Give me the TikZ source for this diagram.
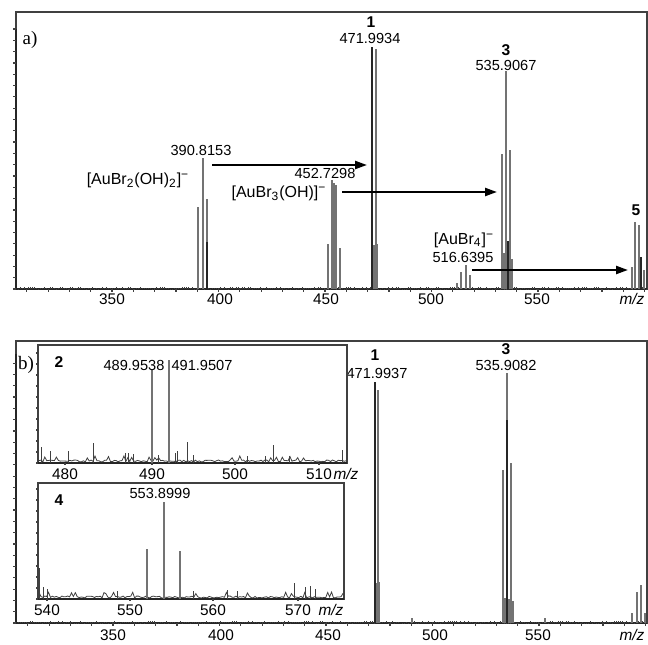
\documentclass[tikz,border=0pt]{standalone}
\usepackage{fontspec}
\setmainfont{Liberation Sans}
\newfontfamily\panelfont{Liberation Serif}
\usetikzlibrary{arrows.meta}
\tikzset{
  peak/.style={draw=black!55, line width=0.55pt},
  darkpeak/.style={draw=black!85, line width=0.55pt},
  noise/.style={draw=black!75, line width=0.4pt},
  frame/.style={draw=black!75, line width=0.6pt},
  axisline/.style={draw=black!85, line width=1pt},
  lbl/.style={inner sep=0.5pt, font=\fontsize{7.3}{8}\selectfont},
  tick/.style={inner sep=0.5pt, font=\fontsize{7.7}{8}\selectfont},
  ion/.style={inner sep=0.5pt, font=\fontsize{8}{9}\selectfont},
  cpd/.style={inner sep=0.5pt, font=\fontsize{7.8}{9}\selectfont\bfseries},
  panel/.style={inner sep=0.5pt, font=\fontsize{9.5}{10}\selectfont\panelfont},
  tran/.style={line width=1.1pt, -{Triangle[length=6pt,width=4pt]}},
}
\begin{document}
\begin{tikzpicture}[x=0.5pt,y=0.5pt]
  \useasboundingbox (0,0) rectangle (648,644);
  \pgfmathsetseed{21}
  %% ---------- panel a ----------
  \def\ba{355}
  \draw[frame] (16,\ba) rectangle (647,632);
  \draw[axisline] (16,\ba) -- (647,\ba);
  \draw[axisline] (16,\ba) -- (16,615);
  \foreach \i in {0,...,23}
    \draw[frame] (16,{\ba+\i*11.3}) -- ++(-3,0);
  \foreach \i in {0,...,29}
    \draw[frame] ({26.8+\i*21.3},\ba) -- ++(0,-3);
  \foreach \x/\t in {112/350,220/400,326/450,431/500,537/550}
    \node[tick] (ta\t) at (\x,345) {\t};
  \node[tick] (mza) at (632,345) {\itshape m/z};
  \node[panel] (pa) at (30,604) {a)};
  %% baseline noise
  \draw[noise] \foreach \x in {18,20,...,646} {(\x,\ba) -- ++(0,{2.5*rnd})};
  %% peaks
  \foreach \x/\h in {198/82,203/131,207/90,
                     328/45,332/109,334/106,336/104,340/41,
                     374/44,377/45,
                     457/6,461/17,466/24,470/14,
                     504/36,506/30,508/38,510/34,512/30,
                     502/135,506/218,510/139,
                     632/22,635/67,639/64,644/19}
    \draw[peak] (\x,\ba) -- ++(0,\h);
  \draw[darkpeak] (372,\ba) -- ++(0,242);
  \draw[peak] (376,\ba) -- ++(0,240);
  \draw[darkpeak] (372,\ba) -- ++(0,171);
  \draw[darkpeak] (207,\ba) -- ++(0,47);
  \draw[darkpeak] (641,\ba) -- ++(0,32);
  \draw[darkpeak] (508,\ba) -- ++(0,48);
  %% labels
  \node[cpd] (c1a) at (371,622) {1};
  \node[lbl] (m1a) at (370,606) {471.9934};
  \node[cpd] (c3a) at (506,594) {3};
  \node[lbl] (m3a) at (506,579) {535.9067};
  \node[cpd] (c5a) at (636,434) {5};
  \node[lbl] (m390) at (201,494) {390.8153};
  \node[ion] (i390) at (138,464) {[AuBr\textsubscript{2}(OH)\textsubscript{2}]\textsuperscript{−}};
  \node[lbl] (m452) at (325,471) {452.7298};
  \node[ion] (i452) at (279,451) {[AuBr\textsubscript{3}(OH)]\textsuperscript{−}};
  \node[ion] (i516) at (464,404) {[AuBr\textsubscript{4}]\textsuperscript{−}};
  \node[lbl] (m516) at (463,387) {516.6395};
  %% transitions
  \coordinate (t1s) at (212,479);
  \coordinate (t1e) at (367,479);
  \coordinate (t2s) at (342,452);
  \coordinate (t2e) at (497,452);
  \coordinate (t3s) at (472,374);
  \coordinate (t3e) at (628,374);
  \draw[tran] (t1s) -- (t1e);
  \draw[tran] (t2s) -- (t2e);
  \draw[tran] (t3s) -- (t3e);
  %% ---------- panel b ----------
  \def\bb{21}
  \draw[frame] (16,\bb) rectangle (647,303);
  \draw[axisline] (16,\bb) -- (647,\bb);
  \draw[axisline] (16,\bb) -- (16,290);
  \foreach \i in {0,...,23}
    \draw[frame] (16,{\bb+\i*11.3}) -- ++(-3,0);
  \foreach \i in {0,...,29}
    \draw[frame] ({27.8+\i*21.3},\bb) -- ++(0,-3);
  \foreach \x/\t in {113/350,221/400,328/450,435/500,538/550}
    \node[tick] (tb\t) at (\x,9) {\t};
  \node[tick] (mzb) at (632,9) {\itshape m/z};
  \node[panel] (pb) at (26,279) {b)};
  \draw[noise] \foreach \x in {18,20,...,646} {(\x,\bb) -- ++(0,{2*rnd})};
  \foreach \x/\h in {376/40,379/41,412/5,505/25,509/24,513/22,545/5,
                     378/233,503/153,511/160,
                     632/10,637/31,641/38,645/10}
    \draw[peak] (\x,\bb) -- ++(0,\h);
  \draw[darkpeak] (375,\bb) -- ++(0,241);
  \draw[darkpeak] (375,\bb) -- ++(0,148);
  \draw[peak] (507,\bb) -- ++(0,250);
  \draw[darkpeak] (507,\bb) -- ++(0,203);
  \node[cpd] (c1b) at (375,289) {1};
  \node[lbl] (m1b) at (377,271) {471.9937};
  \node[cpd] (c3b) at (506,295) {3};
  \node[lbl] (m3b) at (506,279) {535.9082};
  %% inset: compound 2
  \def\bi{181}
  \fill[white] (38,\bi) rectangle (347,299);
  \draw[frame] (38,\bi) rectangle (347,299);
  \draw[axisline] (38,\bi) -- (347,\bi);
  \foreach \i in {0,...,10}
    \draw[frame] (38,{\bi+\i*11}) -- ++(-2,0);
  \foreach \x/\t in {65/480,152/490,235/500,319/510}
    {\draw[frame] (\x,\bi) -- ++(0,-2);
     \node[tick] (tc\t) at (\x,170) {\t};}
  \node[tick] (mzc) at (346,170) {\itshape m/z};
  \draw[noise] plot[domain=39:346,samples=160] (\x,{\bi+1+2*rnd+4*(rnd>0.9)});
  \foreach \x/\h in {41/16,50/12,68/12,93/20,125/10,128/10,133/9,158/8,
                     175/10,177/12,187/21,193/8,247/7,265/7,273/18,289/7,342/13}
    \draw[noise] (\x,\bi) -- ++(0,\h);
  \draw[peak] (152,\bi) -- ++(0,93);
  \draw[peak] (169,\bi) -- ++(0,103);
  \node[cpd] (c2) at (59,282) {2};
  \node[lbl] (m490) at (134,279) {489.9538};
  \node[lbl] (m492) at (202,279) {491.9507};
  %% inset: compound 4
  \def\bj{45}
  \fill[white] (38,\bj) rectangle (344,161);
  \draw[frame] (38,\bj) rectangle (344,161);
  \draw[axisline] (38,\bj) -- (344,\bj);
  \foreach \i in {0,...,10}
    \draw[frame] (38,{\bj+\i*11}) -- ++(-2,0);
  \foreach \x/\t in {47/540,130/550,213/560,298/570}
    {\draw[frame] (\x,\bj) -- ++(0,-2);
     \node[tick] (td\t) at (\x,34) {\t};}
  \node[tick] (mzd) at (331,34) {\itshape m/z};
  \draw[noise] plot[domain=39:343,samples=160] (\x,{\bj+1+2*rnd+4*(rnd>0.9)});
  \foreach \x/\h in {39/31,43/12,47/10,117/8,193/8,227/9,237/8,294/16,305/12,310/13,315/10}
    \draw[noise] (\x,\bj) -- ++(0,\h);
  \draw[peak] (147,\bj) -- ++(0,50);
  \draw[peak] (164,\bj) -- ++(0,97);
  \draw[peak] (180,\bj) -- ++(0,48);
  \node[cpd] (c4) at (59,144) {4};
  \node[lbl] (m554) at (160,151) {553.8999};
\end{tikzpicture}
\end{document}
